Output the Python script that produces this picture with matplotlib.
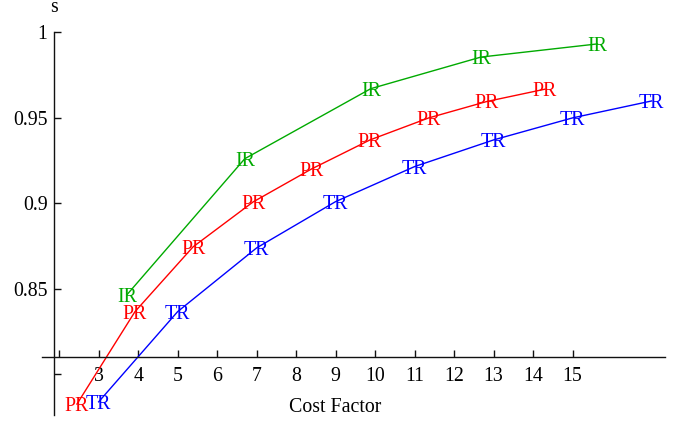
import matplotlib
matplotlib.use("Agg")
import matplotlib.pyplot as plt

# Data
ir_x = [3.72, 6.70, 9.89, 12.68, 15.63]
ir_y = [0.8465, 0.926, 0.967, 0.9855, 0.9932]

pr_x = [2.45, 3.92, 5.39, 6.91, 8.39, 9.87, 11.36, 12.83, 14.30]
pr_y = [0.7824, 0.8365, 0.8744, 0.9007, 0.9200, 0.9370, 0.9499, 0.9595, 0.9667]

tr_x = [3, 5, 7, 9, 11, 13, 15, 17]
tr_y = [0.7837, 0.8365, 0.8738, 0.9009, 0.9214, 0.9370, 0.9499, 0.9598]

x_ticks = [2, 3, 4, 5, 6, 7, 8, 9, 10, 11, 12, 13, 14, 15]
x_tick_labels = ["", "3", "4", "5", "6", "7", "8", "9", "10", "11", "12", "13", "14", "15"]
y_ticks = [0.80, 0.85, 0.90, 0.95, 1.00]
y_tick_labels = ["", "0.85", "0.9", "0.95", "1"]

series = [
    ("IR", ir_x, ir_y, "#00aa00"),
    ("PR", pr_x, pr_y, "#ff0000"),
    ("TR", tr_x, tr_y, "#0000ff"),
]

plt.rcParams["font.family"] = ["Liberation Serif", "DejaVu Serif"]
FS = 14.3

fig = plt.figure(figsize=(6.86, 4.22), dpi=100)
ax = fig.add_axes([0.0612, 0.0166, 0.9082, 0.9069])
ax.set_xlim(1.565, 17.34)
ax.set_ylim(0.776, 1.0)

for name, xs, ys, col in series:
    ax.plot(xs, ys, color=col, lw=1.0, clip_on=False, zorder=2)
    for x, y in zip(xs, ys):
        ax.text(x, y, name, color=col, fontsize=FS, ha="center",
                va="center_baseline", zorder=3, clip_on=False)

ax.spines["top"].set_visible(False)
ax.spines["right"].set_visible(False)
ax.spines["left"].set_position(("data", 1.88))
ax.spines["bottom"].set_position(("data", 0.81))
for s in ("left", "bottom"):
    ax.spines[s].set_linewidth(1.0)
    ax.spines[s].set_color("#111111")

ax.set_xticks(x_ticks)
ax.set_xticklabels(x_tick_labels)
ax.set_yticks(y_ticks)
ax.set_yticklabels(y_tick_labels)
ax.tick_params(axis="both", direction="in", length=5, width=1.0,
               labelsize=FS, color="#111111")
ax.tick_params(axis="x", pad=7)
ax.tick_params(axis="y", pad=5)

fig.text(54 / 686, 1 - 8 / 422, "s", fontsize=FS, ha="center", va="center")
fig.text(335 / 686, 1 - 407 / 422, "Cost Factor", fontsize=FS,
         ha="center", va="center")

fig.savefig("out.png", dpi=100)
